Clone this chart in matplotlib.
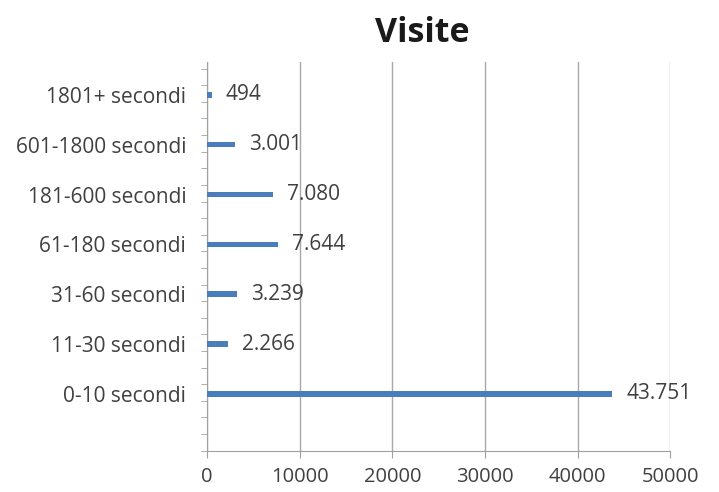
import matplotlib
matplotlib.use("Agg")
import matplotlib.pyplot as plt
import numpy as np

categories = ["0-10 secondi", "11-30 secondi", "31-60 secondi", "61-180 secondi",
              "181-600 secondi", "601-1800 secondi", "1801+ secondi"]
visits = [43751, 2266, 3239, 7644, 7080, 3001, 494]
x_ticks = [0, 10000, 20000, 30000, 40000, 50000]

plt.rcParams['font.family'] = ['Open Sans', 'DejaVu Sans']

fig = plt.figure(figsize=(7.19, 4.92), dpi=100)
ax = fig.add_axes([0.288, 0.084, 0.644, 0.79])

y = np.arange(len(categories))
bar_color = "#4a7ebb"
ax.barh(y, visits, height=0.11, color=bar_color, zorder=3)

def fmt(v):
    return f"{v:,}".replace(",", ".")

for yi, v in zip(y, visits):
    ax.annotate(fmt(v), (v, yi), xytext=(10, 0), textcoords="offset points",
                va="center", ha="left", fontsize=15, color="#404040")

ymin, ymax = -1.14, 6.66
ax.set_ylim(ymin, ymax)
ax.set_xlim(0, 50000)
ax.set_yticks(y)
ax.set_yticklabels(categories, fontsize=15, color="#404040")
ax.set_yticks(np.arange(ymin, ymax + 0.01, 1/3), minor=True)
ax.tick_params(axis="y", which="major", length=0, pad=15)
ax.tick_params(axis="y", which="minor", length=4, color="#a0a0a0", direction="out")

ax.set_xticks(x_ticks)
ax.set_xticklabels([str(t) for t in x_ticks], fontsize=14.5, color="#404040")
ax.tick_params(axis="x", length=5, color="#a0a0a0", pad=7)

ax.grid(axis="x", color="#a8a8a8", linewidth=1, zorder=0)
for s in ["top", "right"]:
    ax.spines[s].set_visible(False)
for s in ["left", "bottom"]:
    ax.spines[s].set_color("#a0a0a0")

fig.text(0.588, 0.932, "Visite", ha="center", va="center", fontsize=24.5,
         fontweight="bold", color="#1a1a1a")

fig.savefig("out.png", dpi=100, facecolor="white")
